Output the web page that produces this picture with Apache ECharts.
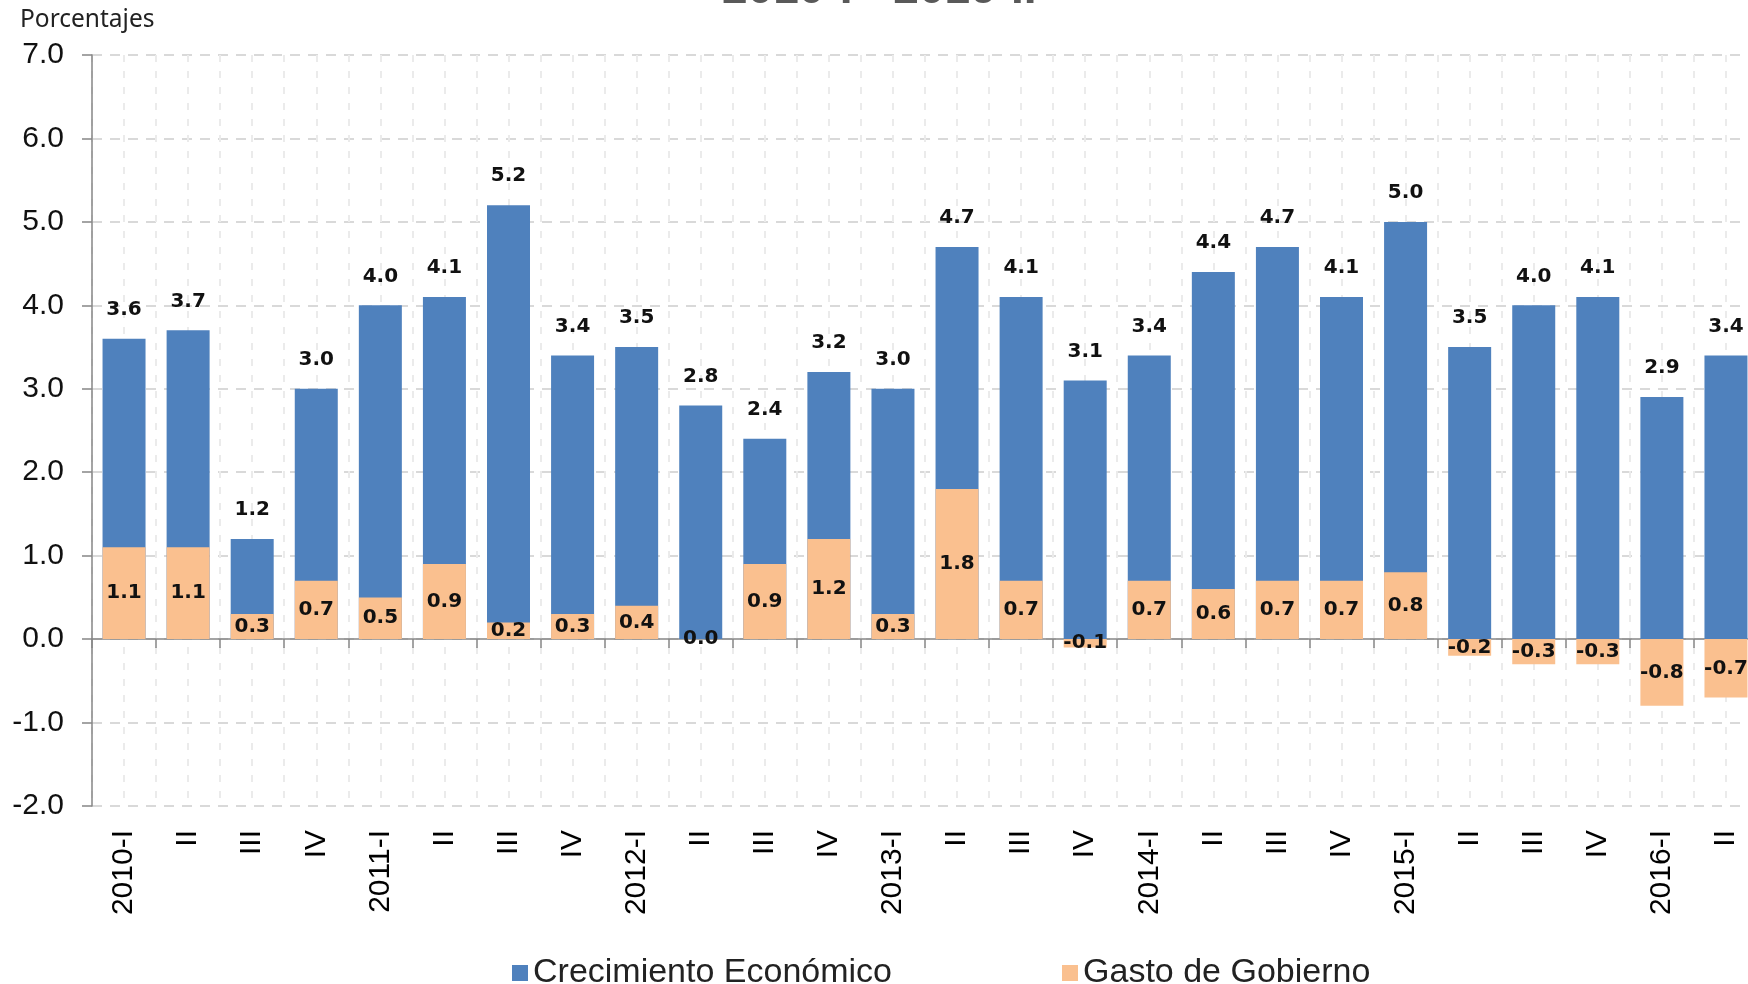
<!DOCTYPE html>
<html>
<head>
<meta charset="utf-8">
<title>Crecimiento Económico y Gasto de Gobierno</title>
<script src="https://cdn.jsdelivr.net/npm/echarts@6/dist/echarts.min.js"></script>
<style>
  html, body { margin: 0; padding: 0; background: #fff; }
  #chart { width: 1748px; height: 984px; }
</style>
</head>
<body>
<div id="chart"></div>
<script>
// trimestres 2010-I .. 2016-II
const quarters = [
  "2010-I", "II", "III", "IV",
  "2011-I", "II", "III", "IV",
  "2012-I", "II", "III", "IV",
  "2013-I", "II", "III", "IV",
  "2014-I", "II", "III", "IV",
  "2015-I", "II", "III", "IV",
  "2016-I", "II"
]

// crecimiento economico (%)
const growth = [
  3.6, 3.7, 1.2, 3.0,
  4.0, 4.1, 5.2, 3.4,
  3.5, 2.8, 2.4, 3.2,
  3.0, 4.7, 4.1, 3.1,
  3.4, 4.4, 4.7, 4.1,
  5.0, 3.5, 4.0, 4.1,
  2.9, 3.4
]

// aporte del gasto de gobierno (%)
const govSpending = [
  1.1, 1.1, 0.3, 0.7,
  0.5, 0.9, 0.2, 0.3,
  0.4, 0.0, 0.9, 1.2,
  0.3, 1.8, 0.7, -0.1,
  0.7, 0.6, 0.7, 0.7,
  0.8, -0.2, -0.3, -0.3,
  -0.8, -0.7
]

const BLUE = "#4F81BD"
const ORANGE = "#FAC08F"
const LABEL_FONT = "DejaVu Sans"
const AXIS_FONT = "Liberation Sans"

// half-quarter slots, only used to draw the light vertical grid
const halfSlots = quarters.flatMap((q) => [q + "a", q + "b"])

const chart = echarts.init(document.getElementById("chart"))

const option = {
  animation: false,
  graphic: [
    {
      // title is cut off by the top edge, only its foot shows
      type: "text",
      left: 722,
      top: -33,
      style: {
        text: "2010-I - 2016-II",
        font: "bold 46px 'Liberation Sans'",
        fill: "#595959"
      }
    },
    {
      type: "text",
      left: 20,
      top: 8,
      style: {
        text: "Porcentajes",
        font: "24.5px 'Noto Sans'",
        fill: "#222"
      }
    }
  ],
  legend: {
    left: 507,
    top: 951,
    itemWidth: 16,
    itemHeight: 16,
    itemGap: 170,
    icon: "rect",
    textStyle: {
      fontFamily: AXIS_FONT,
      fontSize: 34,
      color: "#222"
    },
    data: ["Crecimiento Económico", "Gasto de Gobierno"]
  },
  grid: {
    left: 92,
    top: 55,
    bottom: 178,
    width: 1666,
    // the last bar runs past the right edge, as in the original
    outerBoundsMode: "none"
  },
  xAxis: [
    {
      // axis line crosses at zero
      type: "category",
      data: quarters,
      axisLine: { onZero: true, lineStyle: { color: "#868686", width: 1.5 } },
      axisTick: { show: true, length: 9, lineStyle: { color: "#868686", width: 1.5 } },
      axisLabel: { show: false },
      splitLine: { show: false }
    },
    {
      // labels sit low, under -2.0
      type: "category",
      data: quarters,
      position: "bottom",
      axisLine: { show: false, onZero: false },
      axisTick: { show: false },
      axisLabel: {
        rotate: 90,
        margin: 24,
        fontFamily: AXIS_FONT,
        fontSize: 30,
        color: "#000",
        interval: 0
      }
    },
    {
      type: "category",
      data: halfSlots,
      position: "bottom",
      axisLine: { show: false, onZero: false },
      axisTick: { show: false },
      axisLabel: { show: false },
      splitLine: {
        show: true,
        interval: 0,
        lineStyle: { color: "#ebebeb", width: 2, type: [7, 9] }
      }
    }
  ],
  yAxis: {
    type: "value",
    min: -2,
    max: 7,
    interval: 1,
    axisLine: { show: true, lineStyle: { color: "#868686", width: 1.5 } },
    axisTick: { show: true, inside: false, length: 10, lineStyle: { color: "#868686", width: 1.5 } },
    axisLabel: {
      margin: 28,
      fontFamily: AXIS_FONT,
      fontSize: 30,
      color: "#111",
      formatter: (v) => v.toFixed(1)
    },
    splitLine: {
      lineStyle: { color: "#d9d9d9", width: 2, type: [10, 8] }
    }
  },
  series: [
    {
      name: "Crecimiento Económico",
      type: "bar",
      xAxisIndex: 0,
      data: growth,
      barWidth: 43,
      barGap: "-100%",
      itemStyle: { color: BLUE },
      label: {
        show: true,
        position: "top",
        distance: 19,
        fontFamily: LABEL_FONT,
        fontWeight: "bold",
        fontSize: 20,
        color: "#111",
        formatter: (p) => p.value.toFixed(1)
      }
    },
    {
      name: "Gasto de Gobierno",
      type: "bar",
      xAxisIndex: 0,
      data: govSpending,
      barWidth: 43,
      barGap: "-100%",
      itemStyle: { color: ORANGE },
      label: {
        show: true,
        position: "inside",
        fontFamily: LABEL_FONT,
        fontWeight: "bold",
        fontSize: 20,
        color: "#111",
        formatter: (p) => p.value.toFixed(1)
      }
    }
  ]
}

chart.setOption(option)
</script>
</body>
</html>
